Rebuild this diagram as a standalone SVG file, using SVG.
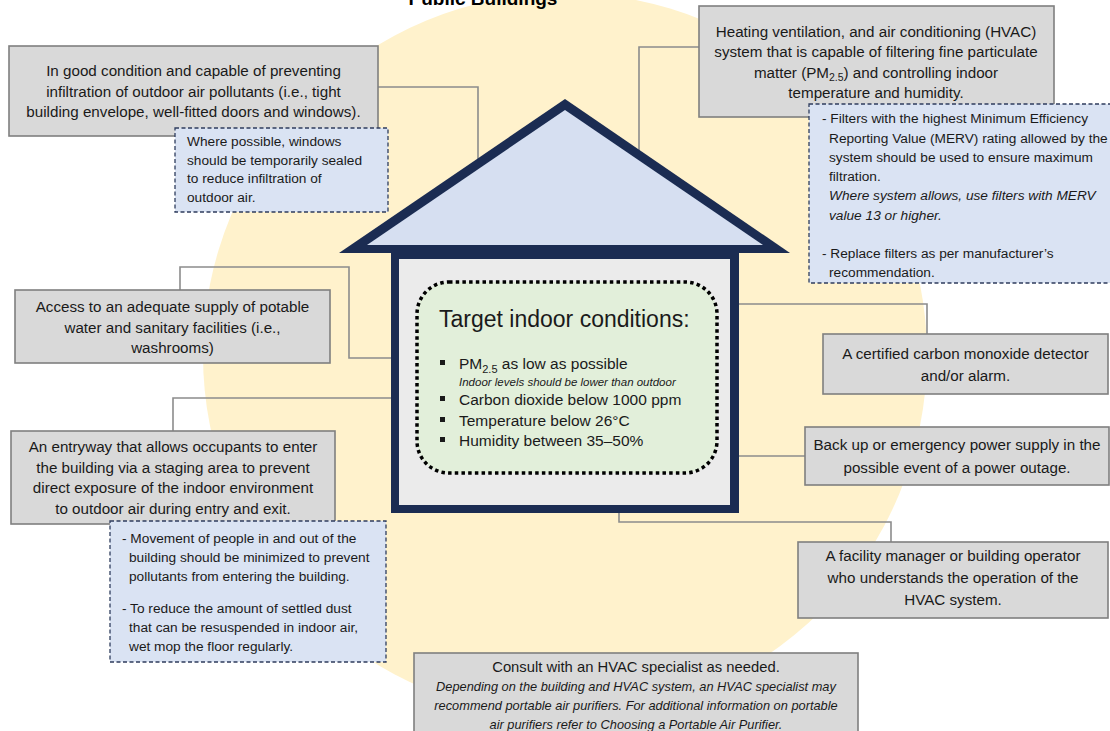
<svg xmlns="http://www.w3.org/2000/svg" width="1110" height="731" viewBox="0 0 1110 731">
<defs>
<style>
text{font-family:"Liberation Sans",Arial,sans-serif;fill:#1a1a1a}
.gb{fill:#d9d9d9;stroke:#7f7f7f;stroke-width:1.6}
.bb{fill:#dae3f3;stroke:#2f3d5e;stroke-width:1.3;stroke-dasharray:4 2.5}
.g{font-size:15.2px;text-anchor:middle}
.b{font-size:13.7px}
.it{font-style:italic}
.con{fill:none;stroke:#8c8c8c;stroke-width:1.6}
.navy{fill:#1b2c52}
.bul{fill:#1a1a1a}
</style>
</defs>
<rect width="1110" height="731" fill="#ffffff"/>
<circle cx="565" cy="355" r="362" fill="#fff2cc"/>
<text x="483" y="5" font-weight="bold" font-size="19" text-anchor="middle" style="fill:#000">Public Buildings</text>

<g id="connectors">
<path class="con" d="M378,87 H478 V162"/>
<path class="con" d="M699,47 H639 V154"/>
<path class="con" d="M180,290 V267 H349 V358 H395"/>
<path class="con" d="M173,431 V398 H395"/>
<path class="con" d="M735,304 H927 V334"/>
<path class="con" d="M735,456 H805"/>
<path class="con" d="M619,510 V522 H891 V542"/>
</g>

<g id="house">
<polygon class="navy" points="565,99 339,253 790,253"/>
<rect class="navy" x="391" y="248" width="348" height="265"/>
<polygon points="565,110 367,245 763,245" fill="#d6dff1"/>
<rect x="399" y="259" width="331" height="246" fill="#ebebeb"/>
<rect x="417" y="282" width="300" height="191" rx="32" ry="32" fill="#e2efda" stroke="#000" stroke-width="3.5" stroke-dasharray="3.5 3.2"/>
<text x="439" y="327" font-size="23">Target indoor  conditions:</text>
<rect class="bul" x="440" y="360" width="5" height="5"/>
<rect class="bul" x="440" y="396" width="5" height="5"/>
<rect class="bul" x="440" y="417" width="5" height="5"/>
<rect class="bul" x="440" y="437" width="5" height="5"/>
<text x="459" y="369" font-size="15.5">PM<tspan font-size="11" dy="4">2.5</tspan><tspan dy="-4"> as low as possible</tspan></text>
<text x="459" y="385.5" font-size="11.5" class="it">Indoor levels should be lower than outdoor</text>
<text x="459" y="405" font-size="15.5">Carbon dioxide below 1000 ppm</text>
<text x="459" y="426" font-size="15.5">Temperature below 26°C</text>
<text x="459" y="446" font-size="15.5">Humidity between 35–50%</text>
</g>

<g id="node-envelope">
<rect class="gb" x="9" y="46" width="369" height="90"/>
<text class="g" x="193.5" y="76">In good condition and capable of preventing</text>
<text class="g" x="193.5" y="96.5">infiltration of outdoor air pollutants (i.e., tight</text>
<text class="g" x="193.5" y="117">building envelope, well-fitted doors and windows).</text>
</g>
<g id="node-windows">
<rect class="bb" x="175" y="128" width="213" height="84"/>
<text class="b" x="187" y="146">Where possible, windows</text>
<text class="b" x="187" y="164.5">should be temporarily  sealed</text>
<text class="b" x="187" y="183">to reduce infiltration of</text>
<text class="b" x="187" y="201.5">outdoor air.</text>
</g>

<g id="node-hvac">
<rect class="gb" x="699" y="6" width="355" height="111"/>
<text class="g" x="876" y="37">Heating ventilation, and air conditioning (HVAC)</text>
<text class="g" x="876" y="57">system that is capable of filtering fine particulate</text>
<text class="g" x="876" y="77.5">matter (PM<tspan font-size="10.5" dy="3">2.5</tspan><tspan dy="-3">) and controlling indoor</tspan></text>
<text class="g" x="876" y="98">temperature and humidity.</text>
</g>
<g id="node-filters">
<rect class="bb" x="809" y="104" width="310" height="179"/>
<text class="b" x="822" y="123">- Filters with the highest Minimum Efficiency</text>
<text class="b" x="829" y="142.5">Reporting Value (MERV) rating allowed by the</text>
<text class="b" x="829" y="162">system should be used to ensure maximum</text>
<text class="b" x="829" y="181">filtration.</text>
<text class="b it" x="829" y="200.3">Where system allows, use filters with MERV</text>
<text class="b it" x="829" y="219.5">value 13 or higher.</text>
<text class="b" x="822" y="258">- Replace filters as per manufacturer’s</text>
<text class="b" x="829" y="276.5">recommendation.</text>
</g>

<g id="node-water">
<rect class="gb" x="15" y="290" width="315" height="73"/>
<text class="g" x="172.5" y="312">Access to an adequate supply of potable</text>
<text class="g" x="172.5" y="332.5">water and sanitary facilities (i.e.,</text>
<text class="g" x="172.5" y="353">washrooms)</text>
</g>

<g id="node-entryway">
<rect class="gb" x="11" y="431" width="324" height="93"/>
<text class="g" x="173" y="452">An entryway that allows occupants to enter</text>
<text class="g" x="173" y="472.5">the building via a staging area to prevent</text>
<text class="g" x="173" y="493">direct exposure of the indoor environment</text>
<text class="g" x="173" y="514">to outdoor air during entry and exit.</text>
</g>
<g id="node-movement">
<rect class="bb" x="110" y="521" width="276" height="141"/>
<text class="b" x="122" y="542.7">- Movement of people in and out of the</text>
<text class="b" x="129" y="561.7">building should be minimized to prevent</text>
<text class="b" x="129" y="580.7">pollutants from entering the building.</text>
<text class="b" x="122" y="612.7">- To reduce the amount of settled dust</text>
<text class="b" x="129" y="631.7">that can be resuspended in indoor air,</text>
<text class="b" x="129" y="651">wet mop the floor regularly.</text>
</g>

<g id="node-co">
<rect class="gb" x="823" y="334" width="285" height="60"/>
<text class="g" x="965.5" y="359">A certified carbon monoxide detector</text>
<text class="g" x="965.5" y="381">and/or alarm.</text>
</g>

<g id="node-power">
<rect class="gb" x="805" y="427" width="304" height="58"/>
<text class="g" x="957" y="450">Back up or emergency power supply in the</text>
<text class="g" x="957" y="472.5">possible event of a power outage.</text>
</g>

<g id="node-manager">
<rect class="gb" x="798" y="542" width="310" height="76"/>
<text class="g" x="953" y="561">A facility manager or building operator</text>
<text class="g" x="953" y="583">who understands the operation of the</text>
<text class="g" x="953" y="605">HVAC system.</text>
</g>

<g id="node-consult">
<rect class="gb" x="414" y="653" width="444" height="90"/>
<text x="636" y="672" font-size="14.8" text-anchor="middle">Consult with an HVAC specialist as needed.</text>
<text x="636" y="691" font-size="12.8" text-anchor="middle" class="it">Depending on the building and HVAC system, an HVAC specialist may</text>
<text x="636" y="710" font-size="12.8" text-anchor="middle" class="it">recommend portable air purifiers. For additional information on portable</text>
<text x="636" y="728.5" font-size="12.8" text-anchor="middle" class="it">air purifiers refer to Choosing a Portable Air Purifier.</text>
</g>
</svg>
